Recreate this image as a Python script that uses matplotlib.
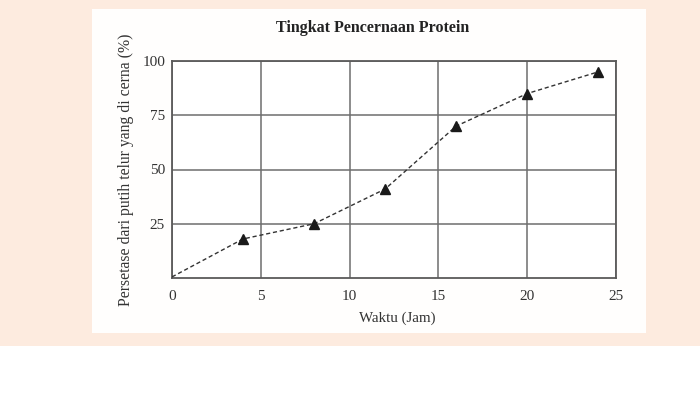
import matplotlib
matplotlib.use('Agg')
import matplotlib.pyplot as plt
from matplotlib.patches import Rectangle

# data
waktu = [0, 4, 8, 12, 16, 20, 24]
persen = [0.5, 18, 25, 41, 70, 85, 95]
x_ticks = [0, 5, 10, 15, 20, 25]
y_ticks = [25, 50, 75, 100]

plt.rcParams['font.family'] = ['Liberation Serif', 'DejaVu Serif']

fig = plt.figure(figsize=(7, 3.93), dpi=100)
fig.patch.set_facecolor('white')
# peach backdrop and white card
fig.patches.append(Rectangle((0, 1 - 346/393), 1, 346/393, transform=fig.transFigure,
                             facecolor='#fdebdf', edgecolor='none', zorder=-2))
fig.patches.append(Rectangle((92/700, 1 - 333/393), 554/700, 324/393, transform=fig.transFigure,
                             facecolor='#fffefd', edgecolor='none', zorder=-1))

ax = fig.add_axes([172/700, 1 - 278/393, 444/700, 217/393])
ax.set_facecolor('white')
ax.plot(waktu, persen, linestyle=(0, (3, 2)), color='#333333', linewidth=1.0, zorder=3)
ax.plot(waktu[1:], persen[1:], linestyle='none', marker='^', color='#1a1a1a',
        markersize=7, zorder=4)

ax.set_xlim(0, 25)
ax.set_ylim(0, 100)
ax.set_xticks(x_ticks)
ax.set_yticks(y_ticks)
ax.grid(True, color='#6e6e6e', linewidth=1.1)
ax.set_axisbelow(True)
for s in ax.spines.values():
    s.set_color('#5a5a5a')
    s.set_linewidth(1.3)
ax.tick_params(length=0, labelsize=11, labelcolor='#333333')
ax.tick_params(axis='x', pad=9)
ax.tick_params(axis='y', pad=5)

fig.text(373/700, 1 - 28/393, 'Tingkat Pencernaan Protein', ha='center', va='center',
         fontsize=11.5, fontweight='bold', color='#222222')
fig.text(126/700, 1 - 170/393, 'Persetase dari putih telur yang di cerna (%)', rotation=90,
         ha='center', va='center', fontsize=11.3, color='#333333')
fig.text(397/700, 1 - 318/393, 'Waktu (Jam)', ha='center', va='center',
         fontsize=10.8, color='#333333')

fig.savefig('out.png', dpi=100)
